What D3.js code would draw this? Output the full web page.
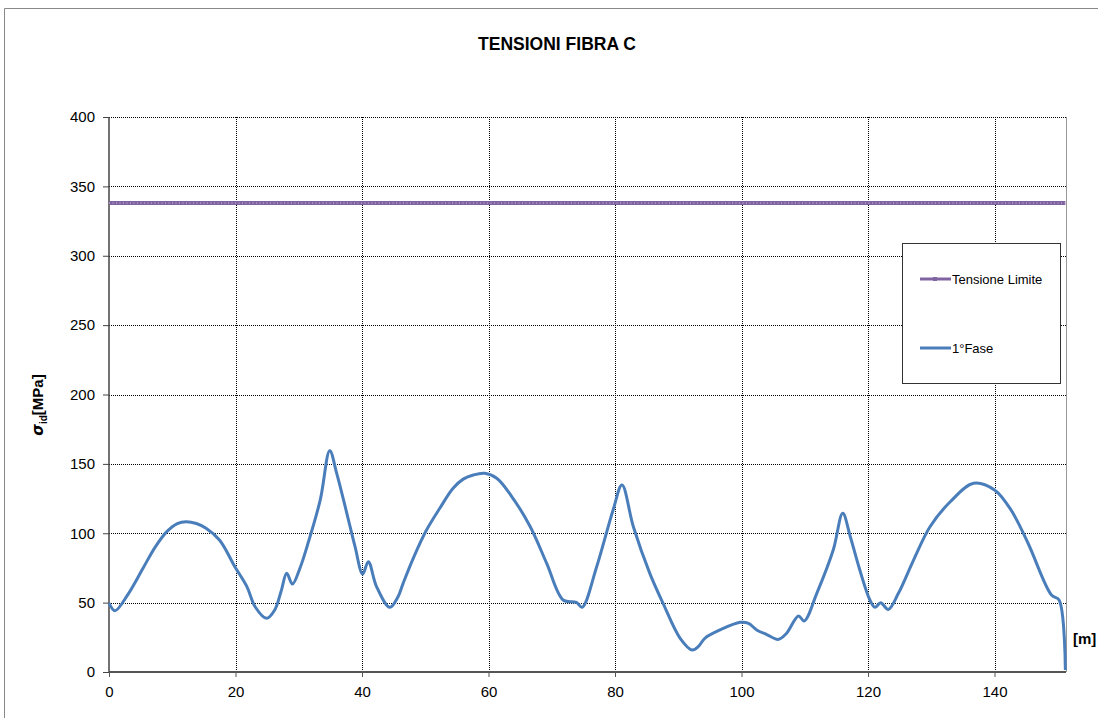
<!DOCTYPE html>
<html><head><meta charset="utf-8">
<script src="https://cdn.jsdelivr.net/npm/d3@7"></script>
<style>body{margin:0;background:#fff;font-family:"Liberation Sans",Arial,sans-serif}</style>
</head><body><svg id="c" width="1098" height="718"></svg>
<script>
const title = "TENSIONI FIBRA C";
const xTicks = [0,20,40,60,80,100,120,140];
const yTicks = [0,50,100,150,200,250,300,350,400];
const faseX = [0,0.95,3,5.4,7.3,9.1,10.8,12.2,13.8,15.4,17.5,19.9,21.8,23.1,24.9,26.2,27.2,28.1,29.0,30.2,31.3,33.4,34.9,36.0,37.6,38.9,40.1,41.0,42.3,44.4,45.7,46.5,48.2,50.2,52.3,54.4,56,57.6,59.4,61.3,63.7,66.6,69.2,71.8,73.9,74.8,77.1,79.7,81.1,82.9,85.5,87.6,90.3,92.2,93.2,94.2,96.6,99.8,101.1,102.4,104,105.8,107.1,109.0,109.9,111.9,114.5,116.0,117.2,118.7,120.3,121.1,122.0,123.2,124.8,127.2,129.8,133.0,136.7,140.0,142.6,145.3,149.0,150.2,151.2];
const faseY = [49.7,44.2,56,75,90,101,107,108.3,107,103.5,95,75.9,61.5,47,38.7,44.7,58,71.1,63.4,75,90.3,124,159.5,143.2,114.4,90.3,70.6,79.5,61.5,46.6,54.3,63.9,83,102.3,118,132.4,139,142,143.2,139.6,126.3,104.7,78.3,51.9,50.2,46.6,75.9,116.8,134.8,104.7,71.1,49.5,24.3,15.9,18.5,24.3,30.3,35.8,35.1,30.3,27,23.5,27.8,40.4,36.8,56.7,87.9,114.4,97.5,73.5,51.9,46.6,49.9,45.1,56.7,80.7,104.7,122.7,136,131.2,116.8,92.8,55.5,51.9,1.4];
const limitX = [0,151.2];
const limitY = [338,338];
const seriesNames = ["Tensione Limite","1°Fase"];

const svg = d3.select("#c");
const m = {l:109,r:1066,t:117,b:672};
const x = d3.scaleLinear().domain([0,151.3]).range([m.l,m.r]);
const y = d3.scaleLinear().domain([0,400]).range([m.b,m.t]);

// outer border
svg.append("path").attr("d","M4.5,718 V8.5 H1098").attr("fill","none").attr("stroke","#888").attr("stroke-width",1);

// title
svg.append("text").attr("x",557).attr("y",50).attr("text-anchor","middle")
  .attr("font-weight","bold").attr("font-size",17.5).text(title);

// gridlines
const g = svg.append("g");
g.selectAll(".hg").data(yTicks.filter(d=>d>0)).join("line")
  .attr("x1",m.l).attr("x2",m.r).attr("y1",d=>Math.round(y(d))+0.5).attr("y2",d=>Math.round(y(d))+0.5)
  .attr("stroke","#000").attr("stroke-width",1).attr("stroke-dasharray","1,1");
g.selectAll(".vg").data(xTicks.filter(d=>d>0)).join("line")
  .attr("y1",m.t).attr("y2",m.b).attr("x1",d=>Math.round(x(d))+0.5).attr("x2",d=>Math.round(x(d))+0.5)
  .attr("stroke","#000").attr("stroke-width",1).attr("stroke-dasharray","1,1");
// right border of plot
svg.append("line").attr("x1",m.r+0.5).attr("x2",m.r+0.5).attr("y1",m.t).attr("y2",m.b).attr("stroke","#999");

// axes
const xa = svg.append("g").attr("transform",`translate(0,${m.b})`)
  .call(d3.axisBottom(x).tickValues(xTicks).tickSize(5).tickFormat(d3.format("d")));
xa.select(".domain").attr("stroke","#555").attr("stroke-width",2).attr("d",`M${m.l},0H${m.r}`);
xa.selectAll(".tick line").attr("stroke","#555");
xa.selectAll("text").attr("font-size",15).attr("font-family","Liberation Sans, Arial").attr("y",14).attr("fill","#000");

const ya = svg.append("g").attr("transform",`translate(${m.l},0)`)
  .call(d3.axisLeft(y).tickValues(yTicks).tickSize(6));
ya.select(".domain").attr("stroke","#444").attr("stroke-width",1.5).attr("d",`M0,${m.t}V${m.b}`);
ya.selectAll(".tick line").attr("stroke","#444");
ya.selectAll("text").attr("font-size",15).attr("font-family","Liberation Sans, Arial").attr("x",-14).attr("fill","#000");

// series
const line = d3.line().x(d=>x(d[0])).y(d=>y(d[1])).curve(d3.curveCatmullRom.alpha(0.5));
svg.append("path").datum(limitX.map((v,i)=>[v,limitY[i]]))
  .attr("d",d3.line().x(d=>x(d[0])).y(d=>y(d[1]))).attr("fill","none")
  .attr("stroke","#8064A2").attr("stroke-width",4);
svg.append("path").datum(limitX.map((v,i)=>[v,limitY[i]]))
  .attr("d",d3.line().x(d=>x(d[0])).y(d=>y(d[1]))).attr("fill","none")
  .attr("stroke","#c9bedc").attr("stroke-width",1).attr("stroke-dasharray","1,2.5");
svg.append("path").datum(faseX.map((v,i)=>[v,faseY[i]]))
  .attr("d",line).attr("fill","none").attr("stroke","#4A7EBB").attr("stroke-width",3)
  .attr("stroke-linejoin","round");

// legend
const lg = svg.append("g");
lg.append("rect").attr("x",902.5).attr("y",243.5).attr("width",158).attr("height",140)
  .attr("fill","#fff").attr("stroke","#333").attr("stroke-width",1);
lg.append("line").attr("x1",920).attr("x2",951).attr("y1",279).attr("y2",279).attr("stroke","#8064A2").attr("stroke-width",3);
lg.append("rect").attr("x",933).attr("y",277).attr("width",4).attr("height",4).attr("fill","#8064A2");
lg.append("text").attr("x",952).attr("y",283.5).attr("font-size",13).text(seriesNames[0]);
lg.append("line").attr("x1",920).attr("x2",951).attr("y1",348).attr("y2",348).attr("stroke","#4A7EBB").attr("stroke-width",3);
lg.append("text").attr("x",952).attr("y",353).attr("font-size",13).text(seriesNames[1]);

// y label
const yl = svg.append("text").attr("transform","translate(43,405) rotate(-90)").attr("text-anchor","middle")
  .attr("font-weight","bold").attr("font-size",15);
yl.append("tspan").attr("font-style","italic").attr("font-family","DejaVu Sans").text("σ");
yl.append("tspan").attr("font-size",10).attr("dy",4).text("id");
yl.append("tspan").attr("dy",-4).text("[MPa]");

// x label
svg.append("text").attr("x",1073).attr("y",644).attr("font-weight","bold").attr("font-size",15).text("[m]");
</script></body></html>
